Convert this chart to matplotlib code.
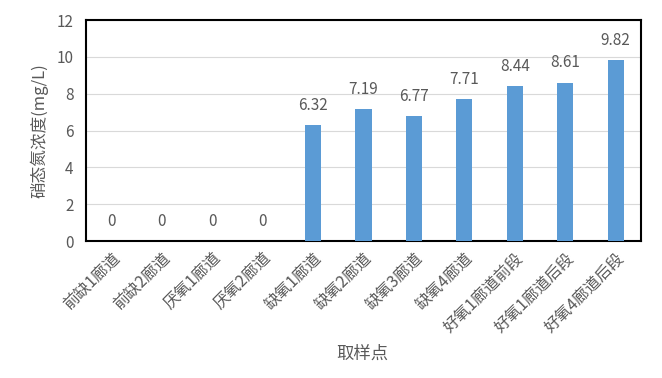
import matplotlib
matplotlib.use("Agg")
import matplotlib.pyplot as plt
import numpy as np

plt.rcParams['font.family'] = ['Noto Sans CJK SC', 'DejaVu Sans']

# 取样点与硝态氮浓度
categories = ['前缺1廊道', '前缺2廊道', '厌氧1廊道', '厌氧2廊道', '缺氧1廊道', '缺氧2廊道',
              '缺氧3廊道', '缺氧4廊道', '好氧1廊道前段', '好氧1廊道后段', '好氧4廊道后段']
values = [0, 0, 0, 0, 6.32, 7.19, 6.77, 7.71, 8.44, 8.61, 9.82]
value_labels = ['0', '0', '0', '0', '6.32', '7.19', '6.77', '7.71', '8.44', '8.61', '9.82']
yticks = [0, 2, 4, 6, 8, 10, 12]

grey = '#595959'
fig = plt.figure(figsize=(6.62, 3.78), dpi=100)
ax = fig.add_axes([0.13, 0.362, 0.838, 0.585])

x = np.arange(len(categories))
bars = ax.bar(x, values, width=0.32, color='#5B9BD5', zorder=3)

for b, lab in zip(bars, value_labels):
    ax.annotate(lab, (b.get_x() + b.get_width() / 2, b.get_height()),
                xytext=(0, 8), textcoords='offset points',
                ha='center', va='bottom', fontsize=11, color=grey)

ax.set_ylim(0, 12)
ax.set_xlim(-0.5, len(categories) - 0.5)
ax.set_yticks(yticks)
ax.yaxis.grid(True, color='#D9D9D9', linewidth=0.8, zorder=0)
ax.tick_params(axis='both', length=0, labelsize=11, colors=grey)
ax.tick_params(axis='y', pad=9)
ax.tick_params(axis='x', pad=6)
ax.set_xticks(x)
ax.set_xticklabels(categories, rotation=45, ha='right', rotation_mode='anchor')
for t in ax.get_xticklabels():
    t.set_fontsize(11.5)

for s in ax.spines.values():
    s.set_color('black')
    s.set_linewidth(1.5)

ax.set_ylabel('硝态氮浓度(mg/L)', fontsize=12, color=grey, labelpad=6)
fig.text(0.548, 0.05, '取样点', ha='center', fontsize=12.5, color=grey)

fig.savefig('out.png', dpi=100)
